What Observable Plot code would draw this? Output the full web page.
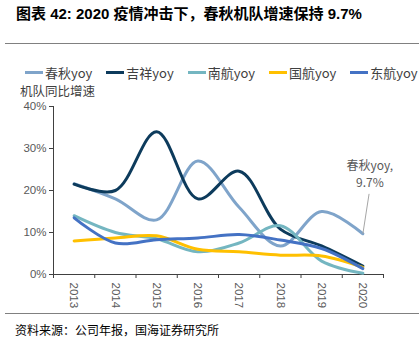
<!DOCTYPE html>
<html><head><meta charset="utf-8">
<script src="https://cdn.jsdelivr.net/npm/d3@7"></script>
<script src="https://cdn.jsdelivr.net/npm/@observablehq/plot@0.6"></script>
<style>
body{margin:0;background:#fff;font-family:"Noto Sans CJK SC","Liberation Sans",sans-serif;}
#wrap{position:relative;width:419px;height:351px;overflow:hidden;}
#title{position:absolute;left:16px;top:2px;font-size:15px;font-weight:bold;color:#000;white-space:nowrap;font-family:"Liberation Sans","Noto Sans CJK SC",sans-serif;}
.rule{position:absolute;left:5px;right:0;height:0;border-top:1px solid #808080;}
#legend{position:absolute;left:25px;top:63px;font-size:13px;color:#404040;white-space:nowrap;display:flex;}
#legend span.item{display:inline-flex;align-items:center;margin-right:14px;}
#legend span.sw{display:inline-block;width:18px;height:3px;margin-right:2px;}
#ylabel{position:absolute;left:20px;top:81px;font-size:12.5px;color:#404040;}
#source{position:absolute;left:15px;top:321px;font-size:12px;color:#000;}
#chart{position:absolute;left:0;top:95px;}
</style></head>
<body><div id="wrap">
<div id="title">图表 42: 2020 疫情冲击下，春秋机队增速保持 9.7%</div>
<div class="rule" style="top:43px"></div>
<div id="legend"></div>
<div id="ylabel">机队同比增速</div>
<div id="chart"></div>
<div class="rule" style="top:313px"></div>
<div id="source">资料来源：公司年报，国海证券研究所</div>
</div>
<script>
const years = [2013, 2014, 2015, 2016, 2017, 2018, 2019, 2020];
const seriesNames = ["春秋yoy", "吉祥yoy", "南航yoy", "国航yoy", "东航yoy"];
const seriesColors = ["#7fa4ca", "#0d3b5c", "#74b6c1", "#ffc000", "#4472c4"];
const chunqiu = [21.6, 18.0, 13.0, 27.0, 16.0, 6.8, 15.0, 9.7];
const juneyao = [21.5, 20.0, 34.0, 18.0, 24.6, 10.8, 6.8, 2.0];
const csair   = [14.0, 10.0, 8.5, 5.4, 7.5, 11.6, 3.2, 0.3];
const airchina= [8.0, 8.7, 9.2, 6.0, 5.4, 4.6, 4.4, 1.7];
const ceair   = [13.5, 7.5, 8.3, 8.7, 9.5, 8.2, 6.2, 1.4];
const yTicks = [0, 10, 20, 30, 40];
const annotText = "春秋yoy,\n9.7%";

const allSeries = [chunqiu, juneyao, csair, airchina, ceair];
const rows = [];
allSeries.forEach((vals, i) => vals.forEach((v, j) => rows.push({name: seriesNames[i], year: years[j], value: v})));

const lg = document.getElementById("legend");
seriesNames.forEach((n, i) => {
  const s = document.createElement("span"); s.className = "item";
  s.innerHTML = `<span class="sw" style="background:${seriesColors[i]}"></span>${n}`;
  lg.appendChild(s);
});

const half = 0.5;
const xDomain = [years[0] - half, years[years.length - 1] + half];
const boundaries = years.map(y => y - half).concat([years[years.length - 1] + half]);
const last = {year: years[years.length - 1], value: chunqiu[chunqiu.length - 1]};

const chart = Plot.plot({
  width: 419,
  height: 220,
  marginLeft: 53,
  marginRight: 36,
  marginTop: 11,
  marginBottom: 41,
  style: {fontFamily: "Liberation Sans, sans-serif", fontSize: "11px", color: "#595959", background: "transparent"},
  x: {domain: xDomain},
  y: {domain: [0, 40]},
  color: {domain: seriesNames, range: seriesColors},
  marks: [
    Plot.axisY({ticks: yTicks, tickFormat: d => d + "%", tickSize: 4, tickPadding: 3, label: null, stroke: "#404040", fontSize: 11.5}),
    Plot.ruleX([xDomain[0]], {y1: 0, y2: 40, stroke: "#404040"}),
    Plot.ruleY([0], {stroke: "#404040"}),
    Plot.axisX({ticks: boundaries, tickFormat: () => "", tickSize: 4, stroke: "#404040", label: null}),
    Plot.axisX({ticks: years, tickFormat: d => String(d), tickSize: 0, tickPadding: 8, tickRotate: 90, label: null, fontSize: 11.5}),
    Plot.line(rows, {x: "year", y: "value", z: "name", stroke: "name", strokeWidth: 3, curve: "catmull-rom"}),
    Plot.link([last], {x1: "year", y1: "value", x2: d => d.year + 0.15, y2: d => d.value + 9.5, stroke: "#a6a6a6", strokeWidth: 1}),
    Plot.text([last], {x: d => d.year + 0.17, y: d => d.value + 14.5, text: () => annotText, fill: "#595959", fontSize: 12, fontFamily: "Noto Sans CJK SC, sans-serif", lineHeight: 1.4})
  ]
});
document.getElementById("chart").appendChild(chart);
</script>
</body></html>
